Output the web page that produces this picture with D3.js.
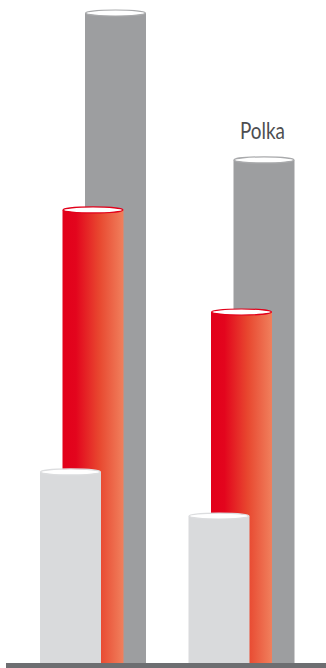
<!DOCTYPE html>
<html>
<head>
<meta charset="utf-8">
<script src="https://cdn.jsdelivr.net/npm/d3@7"></script>
<style>
  html, body { margin: 0; padding: 0; background: #fff; }
  svg { display: block; }
</style>
</head>
<body>
<svg id="chart"></svg>
<script>
"use strict";

// data
var groups = ['A', 'Polka'];
var group_labels = ['', 'Polka'];
var series = ['light', 'red', 'gray'];
var gray_values = [100, 77.4];
var red_values = [69.7, 54.0];
var light_values = [29.4, 22.6];

function draw_chart(svg) {
  var svg_width = 326, svg_height = 668;
  svg.attr('width', svg_width).attr('height', svg_height);

  var base_y = 663;
  var bar_w = 61;

  var X = d3.scalePoint().domain(groups).range([40, 188.5]);
  var S = d3.scalePoint().domain(series).range([0, 45]);
  var Y = d3.scaleLinear().domain([0, 100]).range([base_y, 13]);

  var defs = svg.append('defs');
  var grad = defs.append('linearGradient')
    .attr('id', 'redgrad')
    .attr('x1', '0%').attr('x2', '100%').attr('y1', '0%').attr('y2', '0%');
  grad.append('stop').attr('offset', '0%').attr('stop-color', '#e2001a');
  grad.append('stop').attr('offset', '22%').attr('stop-color', '#e3051d');
  grad.append('stop').attr('offset', '60%').attr('stop-color', '#e8472f');
  grad.append('stop').attr('offset', '100%').attr('stop-color', '#f0805d');

  var styles = {
    gray: { fill: '#9d9ea0', stroke: '#a9aaac', values: gray_values },
    red: { fill: 'url(#redgrad)', stroke: '#e2001a', values: red_values },
    light: { fill: '#d9dadc', stroke: '#dcdddf', values: light_values }
  };

  // draw back to front in each group: gray, red, light
  var order = ['gray', 'red', 'light'];
  groups.forEach(function (g, gi) {
    var grp = svg.append('g').attr('class', 'group');
    order.forEach(function (s) {
      var st = styles[s];
      var v = st.values[gi];
      var x = X(g) + S(s);
      var top = Y(v);
      grp.append('rect')
        .attr('x', x)
        .attr('y', top)
        .attr('width', bar_w)
        .attr('height', base_y - top)
        .attr('fill', st.fill);
      grp.append('ellipse')
        .attr('cx', x + bar_w / 2)
        .attr('cy', top)
        .attr('rx', bar_w / 2 - 0.6)
        .attr('ry', 3)
        .attr('fill', '#ffffff')
        .attr('stroke', st.stroke)
        .attr('stroke-width', 1.2);
    });

    if (group_labels[gi]) {
      svg.append('text')
        .attr('x', X(g) + S('gray') + bar_w / 2 - 1.5)
        .attr('y', Y(gray_values[gi]) - 20.5)
        .attr('text-anchor', 'middle')
        .attr('font-family', 'Lato, "Open Sans", sans-serif')
        .attr('font-size', 23)
        .attr('fill', '#4d4e50')
        .attr('textLength', 45)
        .attr('lengthAdjust', 'spacingAndGlyphs')
        .text(group_labels[gi]);
    }
  });

  // baseline
  svg.append('rect')
    .attr('x', 6)
    .attr('y', base_y)
    .attr('width', svg_width - 6)
    .attr('height', svg_height - base_y)
    .attr('fill', '#6d6e71');
}

draw_chart(d3.select('#chart'));
</script>
</body>
</html>
